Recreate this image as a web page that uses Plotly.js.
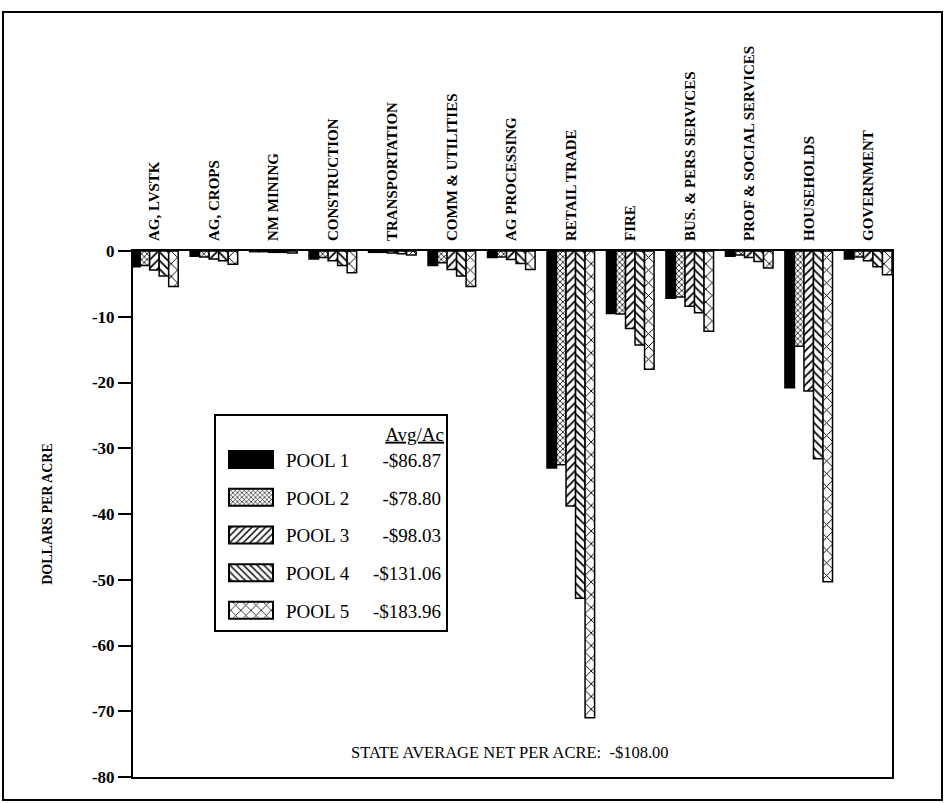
<!DOCTYPE html>
<html>
<head>
<meta charset="utf-8">
<script src="https://cdn.plot.ly/plotly-3.0.1.min.js"></script>
<style>html,body{margin:0;padding:0;background:#fff;}#chart{width:945px;height:803px;}</style>
</head>
<body>
<div id="chart"></div>
<script>
// ---- data ----
const categories = ["AG, LVSTK","AG, CROPS","NM MINING","CONSTRUCTION","TRANSPORTATION","COMM &amp; UTILITIES","AG PROCESSING","RETAIL TRADE","FIRE","BUS. &amp; PERS SERVICES","PROF &amp; SOCIAL SERVICES","HOUSEHOLDS","GOVERNMENT"];
const pool1 = [-2.4,-0.8,-0.1,-1.2,-0.2,-2.2,-1.0,-33.0,-9.5,-7.2,-0.8,-20.8,-1.2];
const pool2 = [-2.2,-0.9,-0.1,-1.0,-0.2,-1.8,-0.9,-32.5,-9.6,-7.0,-0.6,-14.5,-0.9];
const pool3 = [-2.9,-1.2,-0.2,-1.5,-0.3,-2.8,-1.3,-38.8,-11.8,-8.4,-1.0,-21.3,-1.5];
const pool4 = [-3.8,-1.5,-0.2,-2.2,-0.4,-3.8,-1.9,-52.8,-14.3,-9.4,-1.6,-31.6,-2.4];
const pool5 = [-5.4,-2.0,-0.3,-3.3,-0.6,-5.4,-2.8,-71.0,-18.0,-12.2,-2.6,-50.3,-3.6];
const poolNames = ["POOL 1","POOL 2","POOL 3","POOL 4","POOL 5"];
const poolAvg = ["-$86.87","-$78.80","-$98.03","-$131.06","-$183.96"];
const yTicks = [0,-10,-20,-30,-40,-50,-60,-70,-80];
const stateAvg = "-$108.00";

const series = [pool1,pool2,pool3,pool4,pool5];
const patterns = [
  {shape:"", fgcolor:"black", bgcolor:"black"},
  {shape:"x", fgcolor:"black", bgcolor:"white", size:4, solidity:0.35},
  {shape:"/", fgcolor:"black", bgcolor:"white", size:6, solidity:0.3},
  {shape:"\\", fgcolor:"black", bgcolor:"white", size:6, solidity:0.3},
  {shape:"x", fgcolor:"black", bgcolor:"white", size:9, solidity:0.2}
];
const SERIF = "Liberation Serif, Times New Roman, serif";
const NB = "\u00A0";

const traces = series.map((vals,i)=>({
  type:"bar",
  x: categories,
  y: vals,
  name: poolNames[i] + NB.repeat(poolAvg[i].length>7 ? 5 : 7) + poolAvg[i],
  legendgroup: "g"+i,
  marker:{
    color: i===0 ? "black" : "white",
    line:{color:"black", width:1.5},
    pattern: patterns[i]
  },
  hoverinfo:"skip"
}));

const L=133, R=892, T=251, B=777;
const W=945, H=803;
const pw=R-L, ph=B-T;
const px=(x)=>(x-L)/pw, py=(y)=>(B-y)/ph;

const layout = {
  width:W, height:H,
  margin:{l:L, r:W-R, t:T, b:H-B},
  paper_bgcolor:"white", plot_bgcolor:"white",
  barmode:"group", bargap:0.2, bargroupgap:0,
  showlegend:true,
  font:{family:SERIF, color:"black"},
  xaxis:{
    type:"category", side:"top", range:[-0.36,12.4],
    tickangle:-90, tickfont:{family:SERIF, size:15, weight:"bold"},
    ticklabelstandoff:5,
    showline:true, linewidth:2, linecolor:"black", mirror:true,
    ticks:"", showgrid:false, zeroline:false, automargin:false, fixedrange:true
  },
  yaxis:{
    range:[-80,0], tickvals:yTicks, ticktext:yTicks.map(String),
    tickfont:{family:SERIF, size:17, weight:"bold"},
    ticks:"outside", ticklen:13, tickwidth:2, tickcolor:"black",
    showline:true, linewidth:2, linecolor:"black", mirror:true,
    showgrid:false, zeroline:false, automargin:false,
    title:{text:"DOLLARS PER ACRE", font:{family:SERIF, size:14, weight:"bold"}, standoff:36}
  },
  legend:{
    x:px(214), y:py(414), xanchor:"left", yanchor:"top",
    bgcolor:"white", bordercolor:"black", borderwidth:2,
    font:{family:SERIF, size:19},
    traceorder:"grouped", tracegroupgap:10,
    itemwidth:60,
    title:{text:"<u>Avg/Ac</u>", side:"top right", font:{family:SERIF, size:19}}
  },
  annotations:[{
    xref:"paper", yref:"paper", x:px(510), y:py(752), xanchor:"center", yanchor:"middle",
    text:"STATE AVERAGE NET PER ACRE:" + NB + NB + stateAvg, showarrow:false,
    font:{family:SERIF, size:16.5, color:"black"}
  }],
  shapes:[{
    type:"rect", xref:"paper", yref:"paper",
    x0:px(3), x1:px(942), y0:py(800), y1:py(12),
    line:{color:"black", width:2}, fillcolor:"rgba(0,0,0,0)", layer:"below"
  }]
};

Plotly.newPlot("chart", traces, layout, {displayModeBar:false, staticPlot:true}).then(()=>{
  document.querySelectorAll('#chart .legend .legendpoints path').forEach(p=>{
    p.setAttribute('d','M22,8.5H-22V-8.5H22Z');
    p.style.strokeWidth = '2px';
  });
});
</script>
</body>
</html>
